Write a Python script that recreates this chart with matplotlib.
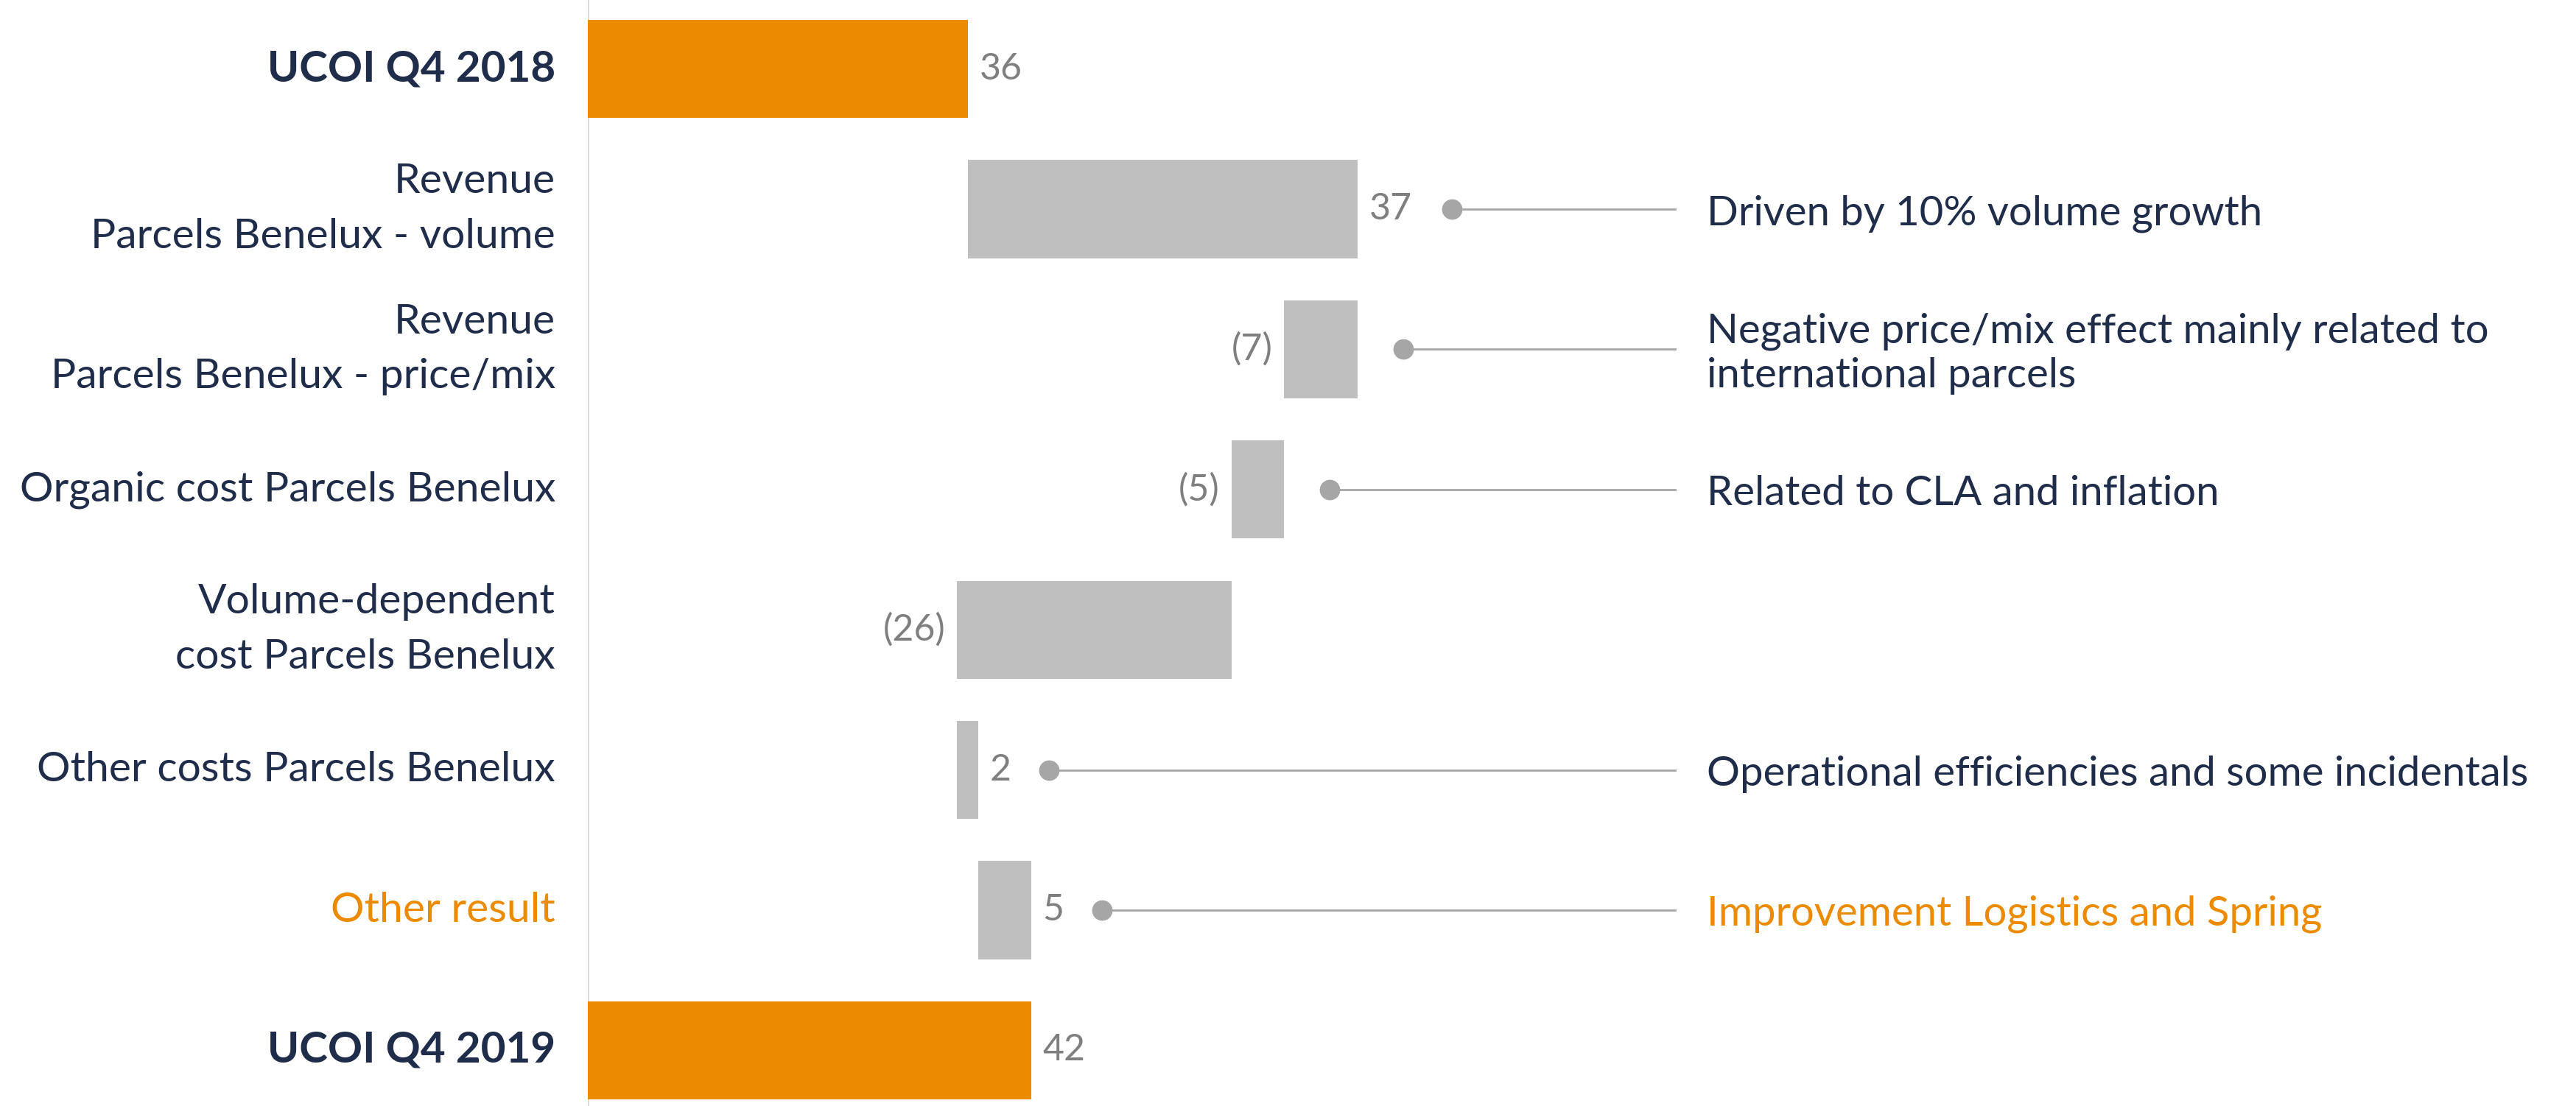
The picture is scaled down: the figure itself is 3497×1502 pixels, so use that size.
import matplotlib
matplotlib.use("Agg")
import matplotlib.pyplot as plt
import numpy as np

# waterfall: UCOI Q4 2018 -> Q4 2019 (EUR m)
LABELS = ["UCOI Q4 2018",
          "Revenue\nParcels Benelux - volume",
          "Revenue\nParcels Benelux - price/mix",
          "Organic cost Parcels Benelux",
          "Volume-dependent\ncost Parcels Benelux",
          "Other costs Parcels Benelux",
          "Other result",
          "UCOI Q4 2019"]
VALUES = [36, 37, -7, -5, -26, 2, 5, 42]
IS_TOTAL = [True, False, False, False, False, False, False, True]
NOTES = [None,
         "Driven by 10% volume growth",
         "Negative price/mix effect mainly related to\ninternational parcels",
         "Related to CLA and inflation",
         None,
         "Operational efficiencies and some incidentals",
         "Improvement Logistics and Spring",
         None]

ORANGE = "#ec8b00"
GREY_BAR = "#bfbfbf"
NAVY = "#1f2d4b"
VAL_GREY = "#7f7f7f"
DOT_GREY = "#a6a6a6"

plt.rcParams["font.family"] = ["Lato", "DejaVu Sans"]

fig = plt.figure(figsize=(34.97, 15.02), dpi=100)
ax = fig.add_axes([358 / 1568, 0, 1 - 358 / 1568, 1])
ax.set_xlim(0, 188.5)
ax.set_ylim(7.397, -0.492)
ax.axis("off")
ax.axvline(0, color="#d9d9d9", lw=2, zorder=0)

line_end, note_x = 103.1, 106.1
running = 0
for i, (lab, v, tot, note) in enumerate(zip(LABELS, VALUES, IS_TOTAL, NOTES)):
    if tot:
        left, width = 0, v
        running = v
        color = ORANGE
    else:
        left = running if v >= 0 else running + v
        width = abs(v)
        running += v
        color = GREY_BAR
    ax.barh(i, width, left=left, height=0.70, color=color, zorder=2)

    txt = str(v) if v >= 0 else f"({-v})"
    right = left + width
    if v >= 0:
        ax.text(right + 1.1, i, txt, ha="left", va="center", fontsize=36, color=VAL_GREY)
        dot_x = right + 4.5 + 2.2 * len(txt)
    else:
        ax.text(left - 1.1, i, txt, ha="right", va="center", fontsize=36, color=VAL_GREY)
        dot_x = right + 4.3

    # category label
    if tot:
        kw = dict(color=NAVY, fontweight="bold", fontsize=42)
    elif lab == "Other result":
        kw = dict(color=ORANGE, fontsize=41)
    else:
        kw = dict(color=NAVY, fontsize=41)
    ax.text(-3.1, i, lab, ha="right", va="center", multialignment="right",
            linespacing=1.58, clip_on=False, **kw)

    if note:
        ax.plot([dot_x, line_end], [i, i], color=DOT_GREY, lw=2, zorder=1)
        ax.plot(dot_x, i, "o", ms=19, color=DOT_GREY, zorder=3)
        ncol = ORANGE if lab == "Other result" else NAVY
        ax.text(note_x, i + 0.03, note, ha="left", va="center", fontsize=40.5,
                linespacing=1.2, color=ncol)

fig.savefig("out.png", dpi=100)
